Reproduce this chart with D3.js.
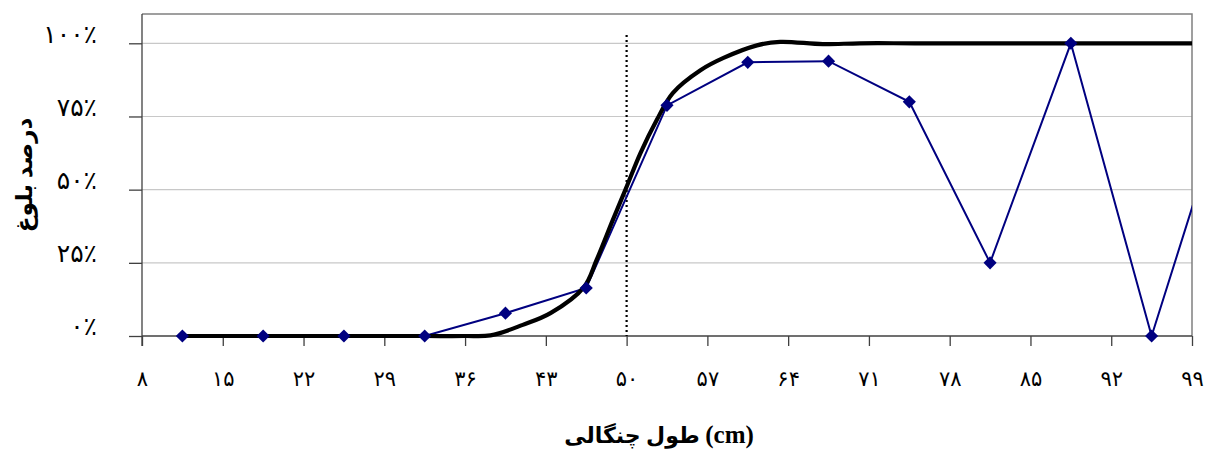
<!DOCTYPE html>
<html>
<head>
<meta charset="utf-8">
<script src="https://cdn.jsdelivr.net/npm/d3@7"></script>
<style>
  html, body { margin: 0; padding: 0; background: #fff; }
  svg { display: block; }
  text { font-family: "Liberation Serif", "Times New Roman", "DejaVu Sans", serif; }
</style>
</head>
<body>
<svg id="chart" width="1205" height="452"></svg>
<script>
// ---- data ----
const lengths = [11.5, 18.5, 25.5, 32.5, 39.5, 46.5, 53.5, 60.5, 67.5, 74.5, 81.5, 88.5, 95.5, 102.5];
const maturity = [0, 0, 0, 0, 0.078, 0.164, 0.788, 0.935, 0.939, 0.80, 0.25, 1.0, 0, 0.875];

const curveLengths = [11.5, 18.5, 25.5, 32.5, 36, 38.2, 41, 43.4, 46.3, 47.4, 48.8, 49.9, 51.2, 52.6, 54, 56.4, 58.4, 61.3, 63.3, 67, 70.2, 75, 85, 95, 102.5];
const curveValues = [0, 0, 0, 0, 0, 0.002, 0.038, 0.078, 0.167, 0.26, 0.396, 0.5, 0.625, 0.737, 0.83, 0.908, 0.95, 0.993, 1.005, 0.997, 1.0, 1.0, 1.0, 1.0, 1.0];

const xTicks = [8, 15, 22, 29, 36, 43, 50, 57, 64, 71, 78, 85, 92, 99];
const yTicks = [0, 0.25, 0.5, 0.75, 1.0];
const l50 = 50;
const xTitleFa = "طول چنگالی ";
const xTitleUnit = "(cm)";
const yTitle = "درصد بلوغ";

// ---- helpers ----
const faDigits = "۰۱۲۳۴۵۶۷۸۹";
const toFa = s => String(s).replace(/[0-9]/g, d => faDigits[+d]);

// ---- layout ----
const pL = 142, pR = 1192, pT = 14, pB = 336;
const svg = d3.select("#chart");
const x = d3.scaleLinear().domain([8, 99]).range([pL, pR]);
const y = d3.scaleLinear().domain([0, 1]).range([pB, 43.3]);

svg.append("defs").append("clipPath").attr("id", "clip")
  .append("rect").attr("x", pL).attr("y", pT - 2).attr("width", pR - pL).attr("height", pB - pT + 10);

// gridlines
svg.append("g").selectAll("line").data(yTicks.filter(d => d > 0)).join("line")
  .attr("x1", pL).attr("x2", pR)
  .attr("y1", d => y(d)).attr("y2", d => y(d))
  .attr("stroke", "#c8c8c8").attr("stroke-width", 1.2);

// plot border (top & right)
svg.append("path")
  .attr("d", `M${pL},${pT}H${pR}V${pB}`)
  .attr("fill", "none").attr("stroke", "#808080").attr("stroke-width", 1.5);

// y axis
const yAxis = d3.axisLeft(y).tickValues(yTicks).tickSize(13).tickPadding(32)
  .tickFormat(d => toFa(Math.round(d * 100)) + "٪");
const gy = svg.append("g").attr("transform", `translate(${pL},0)`).call(yAxis);
gy.select(".domain").attr("d", `M0,${pT}V346`).attr("stroke", "#404040").attr("stroke-width", 1.3);
gy.selectAll(".tick line").attr("stroke", "#404040").attr("stroke-width", 1.3);
gy.selectAll(".tick text").attr("font-size", 25).attr("fill", "#000")
  .attr("font-family", "'DejaVu Sans', sans-serif").attr("dy", "-0.05em");

// x axis
const xAxis = d3.axisBottom(x).tickValues(xTicks).tickSize(10).tickPadding(25).tickFormat(d => toFa(d));
const gx = svg.append("g").attr("transform", `translate(0,${pB})`).call(xAxis);
gx.select(".domain").attr("d", `M${pL},0H${pR}`).attr("stroke", "#404040").attr("stroke-width", 1.3);
gx.selectAll(".tick line").attr("stroke", "#404040").attr("stroke-width", 1.3);
gx.selectAll(".tick text").attr("font-size", 21).attr("fill", "#000")
  .attr("font-family", "'DejaVu Sans', sans-serif");

// L50 dotted line
svg.append("line")
  .attr("x1", x(l50)).attr("x2", x(l50)).attr("y1", 35).attr("y2", pB)
  .attr("stroke", "#000").attr("stroke-width", 2.2).attr("stroke-dasharray", "2,3");

const plot = svg.append("g").attr("clip-path", "url(#clip)");

// observed series
const pts = lengths.map((l, i) => [l, maturity[i]]);
plot.append("path").datum(pts)
  .attr("d", d3.line().x(d => x(d[0])).y(d => y(d[1])))
  .attr("fill", "none").attr("stroke", "#000080").attr("stroke-width", 2);

// fitted curve
const cpts = curveLengths.map((l, i) => [l, curveValues[i]]);
plot.append("path").datum(cpts)
  .attr("d", d3.line().x(d => x(d[0])).y(d => y(d[1])).curve(d3.curveCatmullRom.alpha(0.5)))
  .attr("fill", "none").attr("stroke", "#000").attr("stroke-width", 4.2)
  .attr("stroke-linejoin", "round");

// markers
plot.selectAll("path.mk").data(pts.filter(d => d[0] <= 99)).join("path")
  .attr("class", "mk")
  .attr("d", d3.symbol().type(d3.symbolDiamond2).size(110))
  .attr("transform", d => `translate(${x(d[0])},${y(d[1])})`)
  .attr("fill", "#000080");

// titles
const xt = svg.append("text").attr("x", 659).attr("y", 443)
  .attr("direction", "ltr")
  .attr("text-anchor", "middle").attr("font-size", 22).attr("font-weight", "bold");
xt.append("tspan").text(xTitleFa);
xt.append("tspan").attr("font-size", 25).text(xTitleUnit);

svg.append("text").attr("transform", "translate(32,175) rotate(-90)")
  .attr("text-anchor", "middle").attr("font-size", 23).attr("font-weight", "bold")
  .attr("font-family", "'DejaVu Sans', sans-serif")
  .text(yTitle);
</script>
</body>
</html>
